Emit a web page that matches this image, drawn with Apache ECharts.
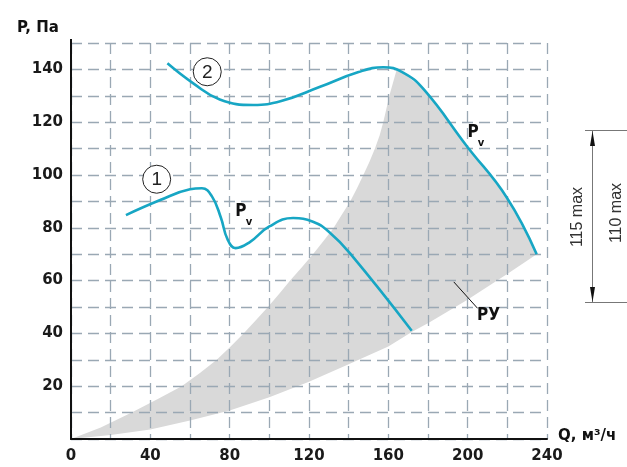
<!DOCTYPE html>
<html><head><meta charset="utf-8">
<script src="https://cdn.jsdelivr.net/npm/echarts@6/dist/echarts.min.js"></script>
<style>html,body{margin:0;padding:0;background:#fff}#c{width:627px;height:467px}</style>
</head><body><div id="c"></div>
<script>
// Tick labels
const qTickLabels = [0, 40, 80, 120, 160, 200, 240];
const pTickLabels = [20, 40, 60, 80, 100, 120, 140];

// Curve 1 (Q, P)
const curve1Q = [27.7, 45, 60, 66, 71, 75.5, 79, 83, 90, 100, 112, 122, 130, 140.7, 171.8];
const curve1P = [84.8, 90.5, 94.6, 95.0, 92.0, 84.0, 75.5, 72.3, 74.5, 80.5, 83.7, 82.3, 78.5, 70.3, 41.0];

// Curve 2 (Q, P)
const curve2Q = [48.6, 62, 75, 91.9, 106, 125.6, 145, 157.5, 167, 178, 199.5, 219.7, 234.8];
const curve2P = [142.3, 134.5, 128.6, 126.5, 128.0, 133.4, 139.0, 140.8, 139.0, 132.3, 111.0, 91.5, 70.0];

// РУ region: upper (left) boundary and lower boundary
const ruUpperQ = [0, 15, 30.6, 44, 55.8, 65, 73.5, 80.5, 87, 93.2, 99.3, 105, 110.5, 116.3, 122, 127.3, 132.3, 136.6, 140.7, 144.2, 147.4, 150.5, 153.3, 155.6, 157.5, 159, 160.5, 164.2];
const ruUpperP = [0, 4.4, 10, 15.2, 20, 25, 30, 35, 40, 45, 50, 55, 60, 65, 70, 75, 79.8, 85, 89.9, 95, 100, 105, 110.1, 115, 120.2, 125, 130, 139.9];
const ruLowerQ = [0, 20, 40, 60, 80, 100, 120, 140, 160, 172, 180.4, 199.5, 220.5, 234.8];
const ruLowerP = [0, 1.5, 3.6, 7.0, 10.8, 15.8, 21.7, 28.3, 35.0, 40.6, 44.0, 52.6, 62.8, 70.0];

const zip = (a, b) => a.map((v, i) => [v, b[i]]);

// polygon: upper boundary -> curve 2 descending part -> lower boundary reversed
const ruPoly = [].concat(
  zip(ruUpperQ, ruUpperP),
  zip(curve2Q, curve2P).filter(p => p[0] > 164.2),
  zip(ruLowerQ, ruLowerP).reverse().slice(1)
);

const LINE = '#17a6c4';
const FONT = 'DejaVu Sans';

const chart = echarts.init(document.getElementById('c'), null, {renderer: 'canvas'});
chart.setOption({
  animation: false,
  backgroundColor: '#fff',
  grid: {left: 71, right: 80, top: 43, bottom: 28, containLabel: false},
  xAxis: {
    type: 'value', min: 0, max: 240, interval: 20,
    axisLine: {show: true, lineStyle: {color: '#111', width: 2}},
    axisTick: {show: false},
    axisLabel: {
      margin: 10, color: '#1a1a1a', fontFamily: FONT, fontWeight: 'bold', fontSize: 15,
      formatter: v => qTickLabels.includes(v) ? String(v) : ''
    },
    splitLine: {show: true, lineStyle: {color: '#9aa8b4', width: 1.3, type: [11, 6]}}
  },
  yAxis: {
    type: 'value', min: 0, max: 150, interval: 10,
    axisLine: {show: true, lineStyle: {color: '#111', width: 2}},
    axisTick: {show: false},
    axisLabel: {
      margin: 8, color: '#1a1a1a', fontFamily: FONT, fontWeight: 'bold', fontSize: 15,
      formatter: v => pTickLabels.includes(v) ? String(v) : ''
    },
    splitLine: {show: true, lineStyle: {color: '#9aa8b4', width: 1.3, type: [11, 6]}}
  },
  series: [
    {
      type: 'custom', z: -1,
      data: [[0, 0]],
      renderItem: (params, api) => ({
        type: 'polygon',
        shape: {points: ruPoly.map(p => api.coord(p))},
        style: {fill: '#d9d9d9'}
      })
    },
    {
      type: 'line', data: zip(curve1Q, curve1P), smooth: 0.45,
      showSymbol: false, lineStyle: {color: LINE, width: 2.6}, z: 3
    },
    {
      type: 'line', data: zip(curve2Q, curve2P), smooth: 0.45,
      showSymbol: false, lineStyle: {color: LINE, width: 2.6}, z: 3
    }
  ]
});

const px = (q, p) => chart.convertToPixel({gridIndex: 0}, [q, p]);
const c1 = px(43.2, 98.4), c2 = px(68.7, 139.1);
const pv1 = px(85.7, 86), pv2 = px(202.7, 115.9);
const ruTxt = px(210.5, 46.6);
const ruA = px(193, 59.5), ruB = px(205, 49.5);

const circ = (c, t) => [
  {type: 'circle', shape: {cx: c[0], cy: c[1], r: 14}, style: {fill: '#fff', stroke: '#222', lineWidth: 1}, z: 10},
  {type: 'text', x: c[0], y: c[1] + 1, style: {text: t, fill: '#222', font: '19px "Liberation Sans"', align: 'center', verticalAlign: 'middle'}, z: 11}
];
const pv = (c) => [
  {type: 'text', x: c[0], y: c[1], style: {text: 'P', fill: '#111', font: 'bold 17px "DejaVu Sans Condensed"', align: 'center', verticalAlign: 'middle'}, z: 11},
  {type: 'text', x: c[0] + 8, y: c[1] + 10, style: {text: 'v', fill: '#111', font: 'bold 10px "DejaVu Sans"', align: 'center', verticalAlign: 'middle'}, z: 11}
];

const gray = '#777';
chart.setOption({
  graphic: [
    {type: 'line', shape: {x1: 71, y1: 39, x2: 71, y2: 44}, style: {stroke: '#111', lineWidth: 2}},
    {type: 'text', x: 17, y: 28, style: {text: 'P, Па', fill: '#111', font: 'bold 15px "DejaVu Sans"', align: 'left', verticalAlign: 'middle'}},
    {type: 'text', x: 558, y: 436, style: {text: 'Q, м³/ч', fill: '#111', font: 'bold 15px "DejaVu Sans"', align: 'left', verticalAlign: 'middle'}},
    ...circ(c1, '1'), ...circ(c2, '2'),
    ...pv(pv1), ...pv(pv2),
    {type: 'line', shape: {x1: ruA[0], y1: ruA[1], x2: ruB[0], y2: ruB[1]}, style: {stroke: '#111', lineWidth: 1}, z: 10},
    {type: 'text', x: ruTxt[0], y: ruTxt[1], style: {text: 'РУ', fill: '#111', font: 'bold 17px "DejaVu Sans Condensed"', align: 'center', verticalAlign: 'middle'}, z: 11},
    // dimension annotation
    {type: 'line', shape: {x1: 585, y1: 130.5, x2: 627, y2: 130.5}, style: {stroke: gray, lineWidth: 1}},
    {type: 'line', shape: {x1: 585, y1: 302.5, x2: 627, y2: 302.5}, style: {stroke: gray, lineWidth: 1}},
    {type: 'line', shape: {x1: 592.5, y1: 131, x2: 592.5, y2: 302}, style: {stroke: gray, lineWidth: 1}},
    {type: 'polygon', shape: {points: [[592.5, 131], [590, 146], [595, 146]]}, style: {fill: '#111'}},
    {type: 'polygon', shape: {points: [[592.5, 302], [590, 287], [595, 287]]}, style: {fill: '#111'}},
    {type: 'text', x: 578, y: 217, rotation: Math.PI / 2, style: {text: '115 max', fill: '#333', font: '16px "Liberation Sans"', align: 'center', verticalAlign: 'middle'}},
    {type: 'text', x: 617, y: 213, rotation: Math.PI / 2, style: {text: '110 max', fill: '#333', font: '16px "Liberation Sans"', align: 'center', verticalAlign: 'middle'}}
  ]
});
</script>
</body></html>
